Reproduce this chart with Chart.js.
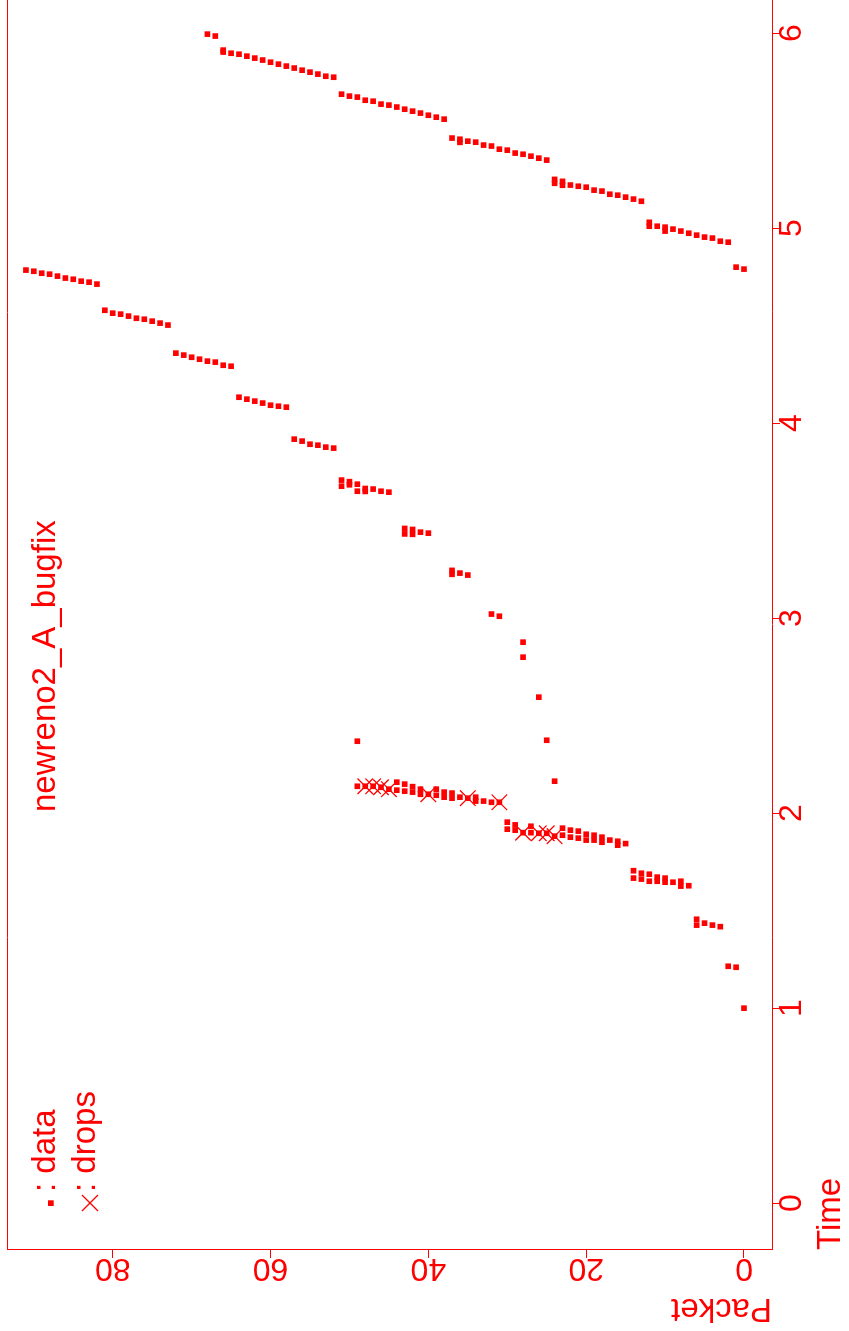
<!DOCTYPE html>
<html>
<head>
<meta charset="utf-8">
<script src="https://cdn.jsdelivr.net/npm/chart.js@4.4.1/dist/chart.umd.min.js"></script>
<style>
  html, body { margin: 0; padding: 0; background: #fff; overflow: hidden; }
  /* the plot is drawn upright and then turned a quarter to the left */
  #wrap { position: absolute; left: 0; top: 0; width: 1331px; height: 849px;
          transform-origin: 0 0; transform: translateY(1331px) rotate(-90deg); }
</style>
</head>
<body>
<div id="wrap"><canvas id="plot" width="1331" height="849"></canvas></div>
<script>
const chartTitle = 'newreno2_A_bugfix';
const timeTicks = [0, 1, 2, 3, 4, 5, 6];
const packetTicks = [0, 20, 40, 60, 80];

// data packets: time and packet number
const dataTime = [
  1.000,
  1.210, 1.215,
  1.418, 1.426, 1.436, 1.426, 1.456,
  1.628, 1.626, 1.651, 1.646, 1.646, 1.667, 1.651, 1.672, 1.651, 1.687, 1.662, 1.692, 1.667, 1.705,
  1.844, 1.836, 1.856, 1.862, 1.851, 1.877, 1.862, 1.887, 1.862, 1.892, 1.872, 1.908, 1.877, 1.913,
  1.887, 1.923, 1.882, 1.897, 1.897, 1.900, 1.933, 1.900, 1.913, 1.940, 1.918, 1.954,
  2.056, 2.056, 2.062, 2.062, 2.082, 2.077, 2.082, 2.077, 2.103, 2.082, 2.108, 2.092, 2.123, 2.097,
  2.097, 2.123, 2.108, 2.136, 2.113, 2.149, 2.118, 2.159, 2.123, 2.133, 2.138, 2.138, 2.138,
  2.164, 2.369, 2.374, 2.595, 2.800, 2.877, 3.010, 3.021,
  3.221, 3.231, 3.225, 3.245,
  3.436, 3.441, 3.430, 3.455, 3.432, 3.460,
  3.646, 3.651, 3.662, 3.650, 3.665, 3.651, 3.687, 3.684, 3.700, 3.677, 3.708,
  3.872, 3.877, 3.887, 3.892, 3.908, 3.918,
  4.082, 4.087, 4.092, 4.103, 4.113, 4.123, 4.133,
  4.292, 4.297, 4.313, 4.318, 4.328, 4.338, 4.349, 4.359,
  4.503, 4.513, 4.523, 4.533, 4.538, 4.549, 4.559, 4.564, 4.579,
  4.713, 4.723, 4.728, 4.738, 4.744, 4.754, 4.764, 4.769, 4.779, 4.785,
  4.790, 4.800,
  4.928, 4.933, 4.949, 4.954, 4.964, 4.974, 4.985, 4.995, 4.985, 5.005, 5.010, 5.010, 5.030,
  5.138, 5.149, 5.159, 5.169, 5.174, 5.190, 5.195, 5.210, 5.215, 5.221, 5.220, 5.240, 5.230, 5.250,
  5.349, 5.359, 5.369, 5.379, 5.385, 5.400, 5.405, 5.421, 5.426, 5.441, 5.446, 5.440, 5.456, 5.462,
  5.559, 5.569, 5.579, 5.590, 5.600, 5.610, 5.621, 5.631, 5.636, 5.651, 5.656, 5.672, 5.677, 5.687,
  5.774, 5.779, 5.790, 5.800, 5.810, 5.821, 5.831, 5.841, 5.851, 5.862, 5.872, 5.882, 5.892, 5.897, 5.903, 5.913,
  5.985, 5.995
];
const dataPacket = [
  0,
  1, 2,
  3, 4, 5, 6, 6,
  7, 8, 8, 9, 10, 10, 11, 11, 12, 12, 13, 13, 14, 14,
  15, 16, 16, 17, 18, 18, 19, 19, 20, 20, 21, 21, 22, 22,
  23, 23, 24, 25, 26, 27, 27, 28, 29, 29, 30, 30,
  31, 32, 33, 34, 34, 35, 36, 37, 37, 38, 38, 39, 39, 40,
  41, 41, 42, 42, 43, 43, 44, 44, 45, 46, 47, 48, 49,
  24, 49, 25, 26, 28, 28, 31, 32,
  35, 36, 37, 37,
  40, 41, 42, 42, 43, 43,
  45, 46, 47, 48, 48, 49, 49, 50, 50, 51, 51,
  52, 53, 54, 55, 56, 57,
  58, 59, 60, 61, 62, 63, 64,
  65, 66, 67, 68, 69, 70, 71, 72,
  73, 74, 75, 76, 77, 78, 79, 80, 81,
  82, 83, 84, 85, 86, 87, 88, 89, 90, 91,
  0, 1,
  2, 3, 4, 5, 6, 7, 8, 9, 10, 10, 11, 12, 12,
  13, 14, 15, 16, 17, 18, 19, 20, 21, 22, 23, 23, 24, 24,
  25, 26, 27, 28, 29, 30, 31, 32, 33, 34, 35, 36, 36, 37,
  38, 39, 40, 41, 42, 43, 44, 45, 46, 47, 48, 49, 50, 51,
  52, 53, 54, 55, 56, 57, 58, 59, 60, 61, 62, 63, 64, 65, 66, 66,
  67, 68
];

// dropped packets
const dropTime = [1.882, 1.897, 1.897, 1.900, 2.056, 2.077, 2.097, 2.123, 2.133, 2.138, 2.138];
const dropPacket = [24, 25, 26, 28, 31, 35, 40, 45, 46, 47, 48];

const red = 'rgb(255, 0, 0)';
const FONT = 'Liberation Sans';

// frame top, packet tick labels (turned like the axis title), title and legend
const frameAndText = {
  id: 'frameAndText',
  afterDraw(chart) {
    const ctx = chart.ctx;
    const area = chart.chartArea;
    const yScale = chart.scales.y;
    ctx.save();
    ctx.strokeStyle = red;
    ctx.fillStyle = red;
    ctx.lineWidth = 1;
    ctx.beginPath();
    ctx.moveTo(area.left, area.top + 0.5);
    ctx.lineTo(area.right, area.top + 0.5);
    ctx.stroke();

    ctx.font = '32px "' + FONT + '"';
    ctx.textAlign = 'center';
    ctx.textBaseline = 'alphabetic';
    yScale.ticks.forEach(t => {
      ctx.save();
      ctx.translate(area.left - 9, yScale.getPixelForValue(t.value));
      ctx.rotate(-Math.PI / 2);
      ctx.fillText(t.label, 0, 0);
      ctx.restore();
    });

    ctx.font = '33px "' + FONT + '"';
    ctx.textAlign = 'left';
    ctx.fillText(chartTitle, 519, 55);
    ctx.fillText(': data', 139, 55);
    ctx.fillText(': drops', 139, 95);
    ctx.fillRect(125, 48, 5.7, 5.7);
    ctx.lineWidth = 1.3;
    ctx.beginPath();
    ctx.moveTo(120, 82); ctx.lineTo(136, 98);
    ctx.moveTo(136, 82); ctx.lineTo(120, 98);
    ctx.stroke();
    ctx.restore();
  }
};

const axisCommon = {
  grid: { drawOnChartArea: false, drawTicks: true, tickLength: 8, color: red, lineWidth: 1 },
  border: { display: true, color: red, width: 1 }
};

new Chart(document.getElementById('plot'), {
  type: 'scatter',
  data: {
    datasets: [
      {
        label: 'data',
        data: dataTime.map((t, i) => ({ x: t, y: dataPacket[i] })),
        pointStyle: 'rect',
        pointRadius: 4,
        pointBorderWidth: 0,
        pointBackgroundColor: red,
        pointBorderColor: red,
        backgroundColor: red,
        borderColor: red
      },
      {
        label: 'drops',
        data: dropTime.map((t, i) => ({ x: t, y: dropPacket[i] })),
        pointStyle: 'crossRot',
        pointRadius: 11,
        pointBorderWidth: 1.3,
        pointBackgroundColor: red,
        pointBorderColor: red,
        backgroundColor: red,
        borderColor: red
      }
    ]
  },
  options: {
    responsive: false,
    animation: false,
    devicePixelRatio: 1,
    layout: { autoPadding: false, padding: { top: 7, left: 0, right: 0, bottom: 0 } },
    plugins: { legend: { display: false }, tooltip: { enabled: false } },
    scales: {
      x: {
        ...axisCommon,
        type: 'linear',
        position: 'bottom',
        min: -0.24,
        max: 6.17,
        afterBuildTicks: s => { s.ticks = timeTicks.map(v => ({ value: v })); },
        afterFit: s => { s.height = 77; },
        ticks: { color: red, font: { family: FONT, size: 32 }, padding: -7, maxRotation: 0, autoSkip: false },
        title: { display: true, text: 'Time', align: 'start', color: red,
                 font: { family: FONT, size: 33 }, padding: { top: 0, bottom: -2 } }
      },
      y: {
        ...axisCommon,
        type: 'linear',
        min: -3.55,
        max: 93.4,
        afterBuildTicks: s => { s.ticks = packetTicks.map(v => ({ value: v })); },
        afterFit: s => { s.width = 81; },
        ticks: { display: false },
        title: { display: true, text: 'Packet', align: 'start', color: red,
                 font: { family: FONT, size: 33 }, padding: { top: 3, bottom: 0 } }
      }
    }
  },
  plugins: [frameAndText]
});
</script>
</body>
</html>
